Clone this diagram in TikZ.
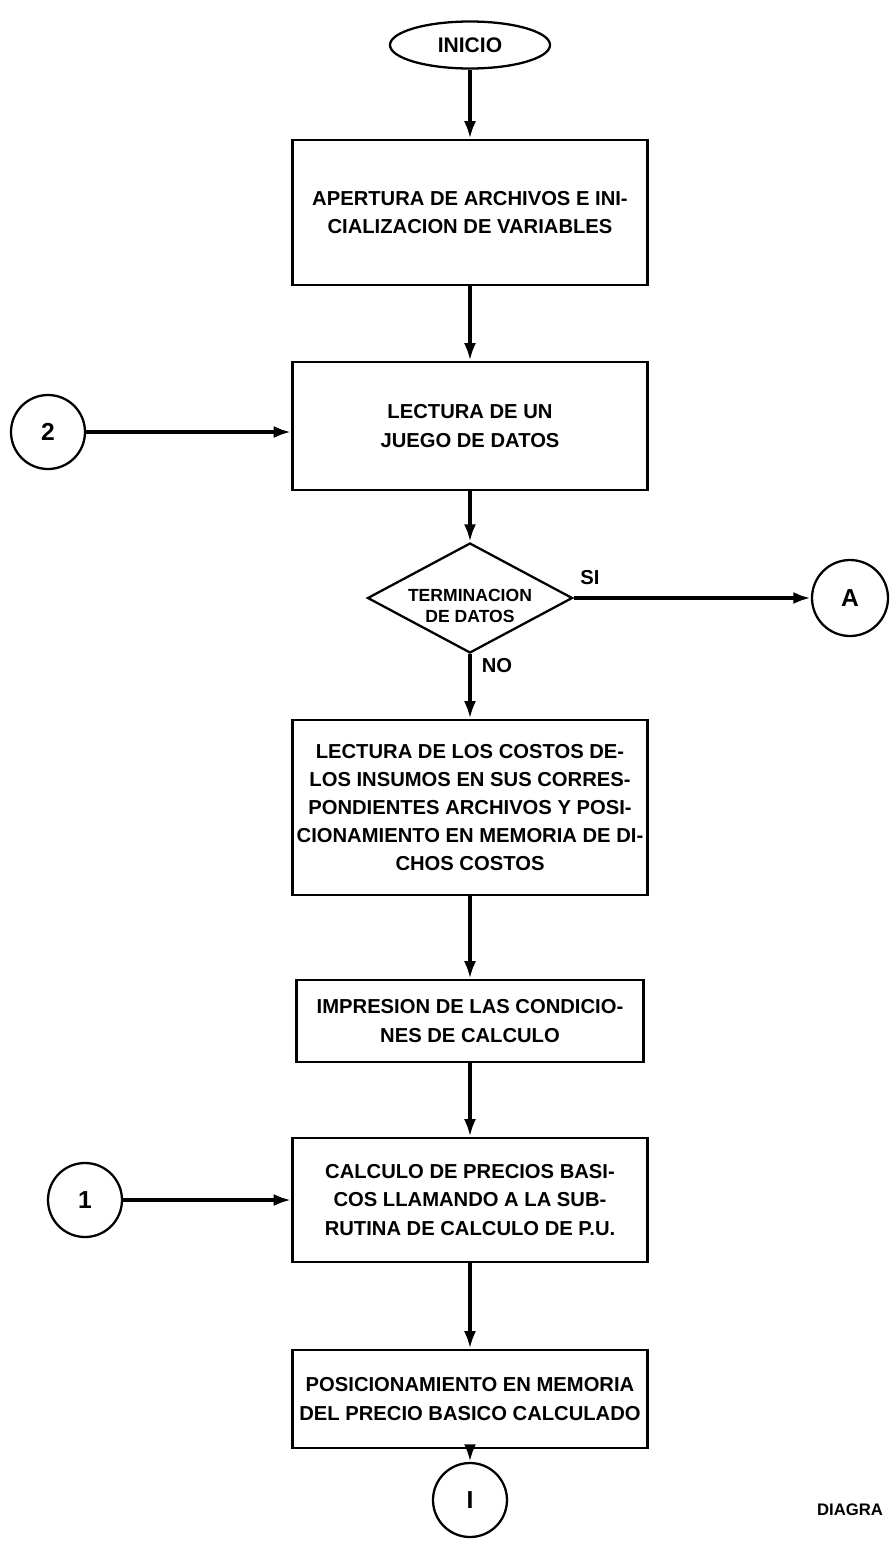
\documentclass[tikz,border=0pt]{standalone}
\usepackage{fontspec}
\setmainfont{Liberation Sans}
\usetikzlibrary{shapes.geometric}
\usetikzlibrary{arrows.meta}

\begin{document}
\begin{tikzpicture}
		\tikzset{caja/.style={draw,line width=1.5pt,minimum width=7.1cm,align=center,inner sep=2pt,font=\bfseries\fontsize{11.5}{16}\selectfont},
			conector/.style={draw,circle,line width=1.3pt,minimum size=1.48cm,inner sep=0pt,font=\bfseries\fontsize{14}{14}\selectfont},
			flecha/.style={line width=2.4pt,-{Latex[length=3.5mm,width=2.4mm]}},
			rotulo/.style={font=\bfseries\fontsize{11.5}{12}\selectfont}}
		\useasboundingbox (0,0) rectangle (17.8,-30.82);
		\node (ini) at (9.4,-0.9) [draw,ellipse,line width=1.3pt,minimum width=3.2cm,minimum height=0.94cm,inner sep=0pt,font=\bfseries\fontsize{12}{12}\selectfont] {INICIO};
		\node (b1) at (9.4,-4.25) [caja,minimum height=2.9cm] {APERTURA DE ARCHIVOS E INI-\\CIALIZACION DE VARIABLES};
		\node (b2) at (9.4,-8.52) [caja,minimum height=2.56cm] {LECTURA DE UN\\JUEGO DE DATOS};
		\node (c2) at (0.96,-8.64) [conector] {2};
		\node (dec) at (9.4,-11.96) [draw,diamond,line width=1.3pt,minimum width=4.1cm,minimum height=2.2cm,inner sep=0pt,label={[yshift=-0.15cm,align=center,font=\bfseries\fontsize{10}{12}\selectfont]center:TERMINACION\\DE DATOS}] {};
		\node (cA) at (17.0,-11.96) [conector,minimum size=1.52cm] {A};
		\node (si) at (11.8,-11.56) [rotulo] {SI};
		\node (no) at (9.94,-13.32) [rotulo] {NO};
		\node (b3) at (9.4,-16.15) [caja,minimum height=3.5cm] {LECTURA DE LOS COSTOS DE-\\LOS INSUMOS EN SUS CORRES-\\PONDIENTES ARCHIVOS Y POSI-\\CIONAMIENTO EN MEMORIA DE DI-\\CHOS COSTOS};
		\node (b4) at (9.4,-20.42) [caja,minimum width=6.94cm,minimum height=1.64cm] {IMPRESION DE LAS CONDICIO-\\NES DE CALCULO};
		\node (b5) at (9.4,-24.0) [caja,minimum height=2.48cm] {CALCULO DE PRECIOS BASI-\\COS LLAMANDO A LA SUB-\\RUTINA DE CALCULO DE P.U.};
		\node (c1) at (1.7,-24.0) [conector] {1};
		\node (b6) at (9.4,-27.98) [caja,minimum height=1.96cm] {POSICIONAMIENTO EN MEMORIA\\DEL PRECIO BASICO CALCULADO};
		\node (cfin) at (9.4,-30.0) [conector] {I};
		\node (diag) at (16.3,-30.2) [anchor=west,inner sep=1pt,font=\bfseries\fontsize{9.5}{10}\selectfont] {DIAGRA};
		
		%Flechas
		\draw[flecha] (ini) -- (b1);
		\draw[flecha] (b1) -- (b2);
		\draw[flecha] (c2) -- (c2 -| b2.west);
		\draw[flecha] (b2) -- (dec);
		\draw[flecha] (dec) -- (cA);
		\draw[flecha] (dec) -- (b3);
		\draw[flecha] (b3) -- (b4);
		\draw[flecha] (b4) -- (b5);
		\draw[flecha] (c1) -- (b5);
		\draw[flecha] (b5) -- (b6);
		\draw[flecha] (b6) -- (cfin);
	\end{tikzpicture}
\end{document}
